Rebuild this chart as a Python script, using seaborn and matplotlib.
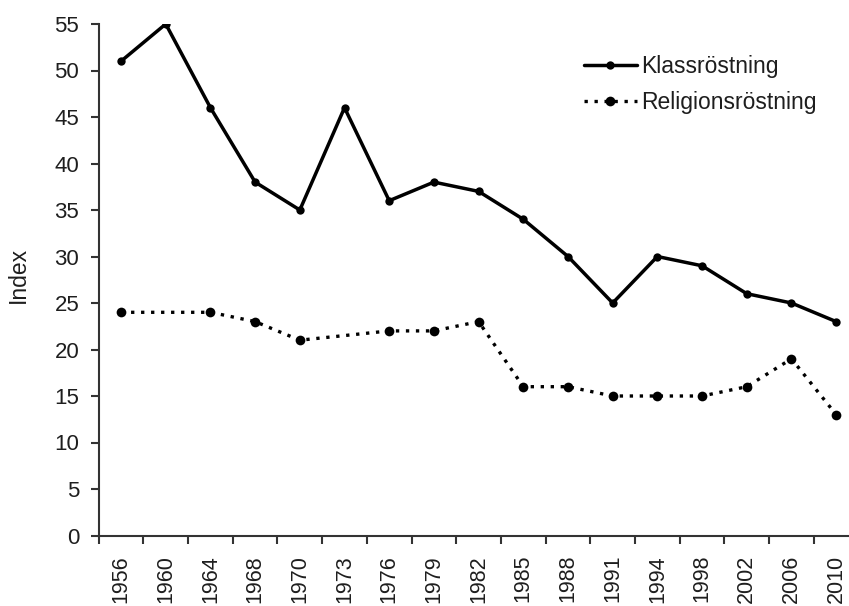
import numpy as np
import pandas as pd
import matplotlib
matplotlib.use("Agg")
import matplotlib.pyplot as plt
import seaborn as sns

years = ["1956", "1960", "1964", "1968", "1970", "1973", "1976", "1979", "1982",
         "1985", "1988", "1991", "1994", "1998", "2002", "2006", "2010"]
klass = [51, 55, 46, 38, 35, 46, 36, 38, 37, 34, 30, 25, 30, 29, 26, 25, 23]
religion = [24, np.nan, 24, 23, 21, np.nan, 22, 22, 23, 16, 16, 15, 15, 15, 16, 19, 13]
y_ticks = [0, 5, 10, 15, 20, 25, 30, 35, 40, 45, 50, 55]

sns.set_style("ticks")
plt.rcParams["font.family"] = ["Liberation Sans", "DejaVu Sans"]

pos = np.arange(len(years))
df_k = pd.DataFrame({"pos": pos, "value": klass})
df_r = pd.DataFrame({"pos": pos, "value": religion}).dropna()

fig = plt.figure(figsize=(8.49, 6.06), dpi=100)
ax = fig.add_axes([98.7 / 849, (606 - 535.5) / 606, (858.5 - 98.7) / 849, (535.5 - 24) / 606])

sns.lineplot(data=df_k, x="pos", y="value", ax=ax, color="black", linewidth=2.5,
             marker="o", markersize=6, markeredgewidth=0, label="Klassröstning")
sns.lineplot(data=df_r, x="pos", y="value", ax=ax, color="black", linewidth=2.4,
             linestyle=(0, (1, 2)), marker="o", markersize=7, markeredgewidth=0,
             label="Religionsröstning")

ax.set_xlim(-0.5, len(years) - 0.5)
ax.set_ylim(0, 55)
ax.set_yticks(y_ticks)
ax.set_yticklabels([str(v) for v in y_ticks])
ax.set_xticks(pos)
ax.set_xticklabels(years, rotation=90)
ax.set_xticks(np.arange(-0.5, len(years) + 0.5, 1), minor=True)
ax.tick_params(axis="x", which="major", length=0, pad=14, labelsize=15.5, labelcolor="#1e1e1e")
ax.tick_params(axis="x", which="minor", length=6, width=1.5, color="#333333", direction="out")
ax.tick_params(axis="y", length=6, width=1.5, color="#333333", pad=8, labelsize=16,
               labelcolor="#1e1e1e", direction="out")

for s in ["top", "right"]:
    ax.spines[s].set_visible(False)
for s in ["left", "bottom"]:
    ax.spines[s].set_color("#333333")
    ax.spines[s].set_linewidth(1.5)

ax.set_xlabel("")
ax.set_ylabel("Index", fontsize=16.5, color="#1e1e1e", labelpad=14)
ax.yaxis.set_label_coords(18.5 / 849 * (849 / (858.5 - 98.7)) - 98.7 / (858.5 - 98.7), 0.509)
ax.yaxis.label.set_verticalalignment("center")

leg = ax.legend(loc="upper left", bbox_to_anchor=(584 / 849, (606 - 55) / 606),
                bbox_transform=fig.transFigure, frameon=False, fontsize=16.5,
                handlelength=2.3, handletextpad=0.2, labelspacing=0.55, borderpad=0,
                borderaxespad=0)
for t in leg.get_texts():
    t.set_color("#1e1e1e")

fig.savefig("out.png", dpi=100)
